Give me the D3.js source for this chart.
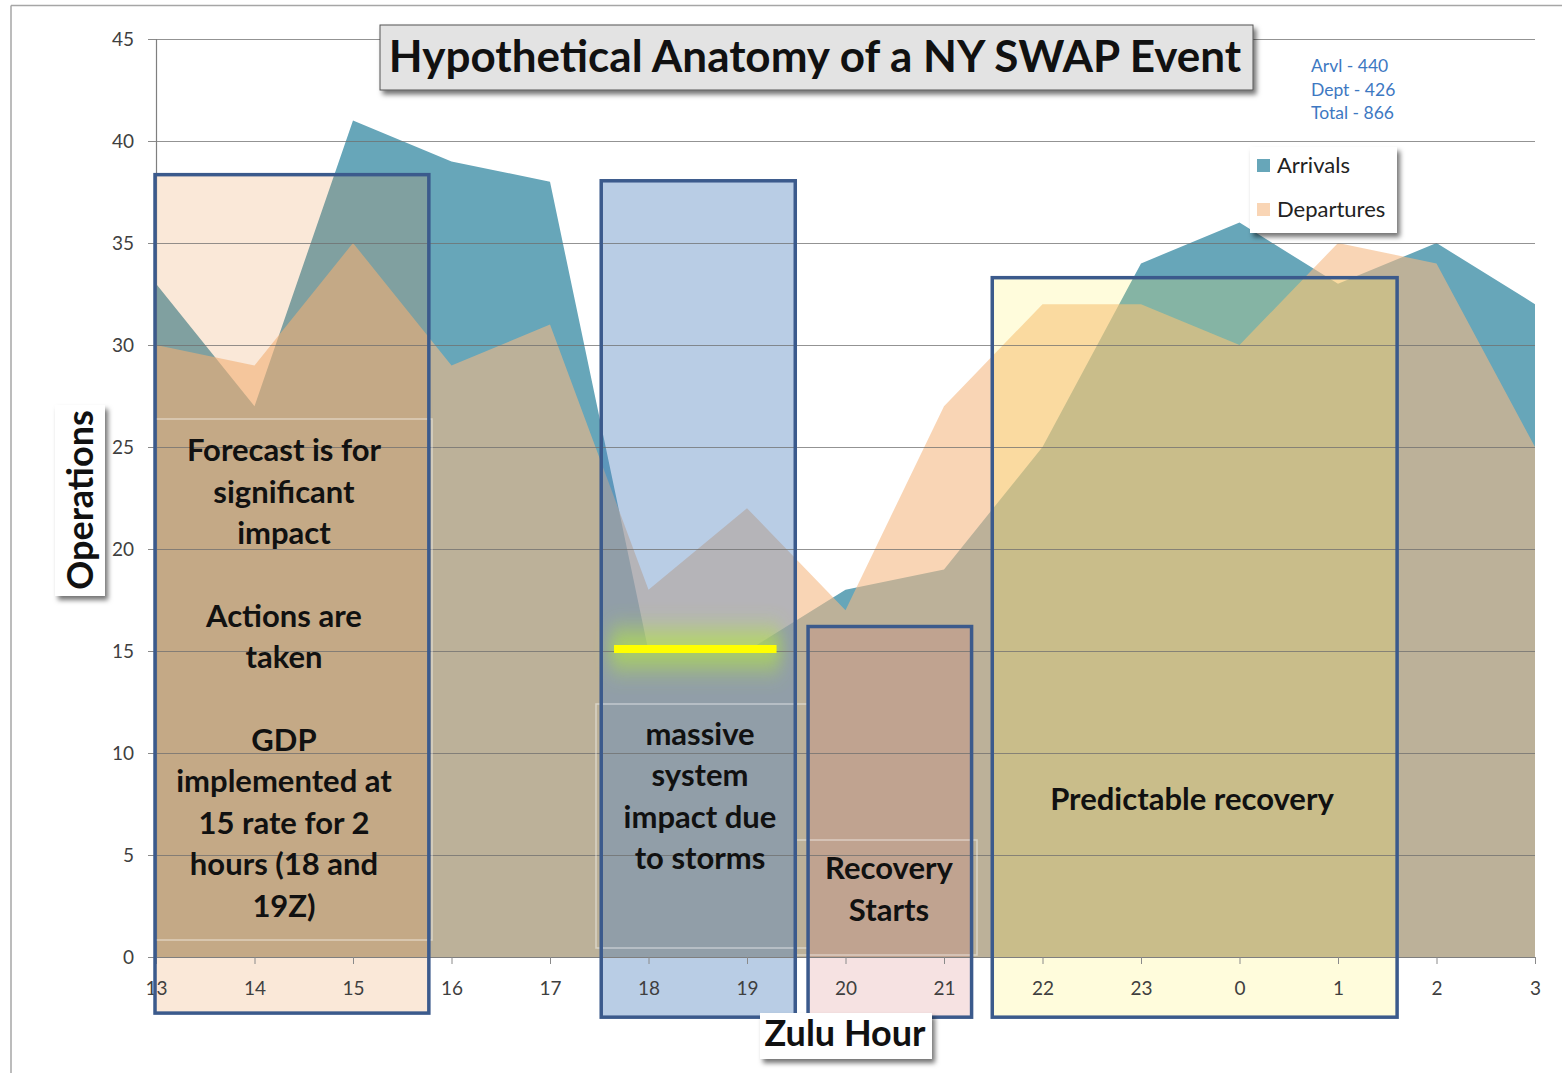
<!DOCTYPE html>
<html>
<head>
<meta charset="utf-8">
<script src="https://cdn.jsdelivr.net/npm/d3@7"></script>
<style>
  html, body { margin: 0; padding: 0; background: #ffffff; }
  svg { display: block; }
</style>
</head>
<body>
<svg id="chart" width="1562" height="1073"></svg>
<script>
// ---------------- DATA ----------------
const hours = [13, 14, 15, 16, 17, 18, 19, 20, 21, 22, 23, 0, 1, 2, 3];
const arrivals = [33, 27, 41, 39, 38, 15, 15, 18, 19, 25, 34, 36, 33, 35, 32];
const departures = [30, 29, 35, 29, 31, 18, 22, 17, 27, 32, 32, 30, 35, 34, 25];
const yTicks = [0, 5, 10, 15, 20, 25, 30, 35, 40, 45];
const seriesNames = ["Arrivals", "Departures"];
const totalsText = ["Arvl - 440", "Dept - 426", "Total - 866"];
const titleText = "Hypothetical Anatomy of a NY SWAP Event";
const yTitle = "Operations";
const xTitle = "Zulu Hour";
// phases: start/end in hour-index units, top value, label lines
const phaseStart = [-0.01, 4.52, 6.62, 8.49];
const phaseEnd = [2.77, 6.49, 8.28, 12.6];
const phaseTop = [38.35, 38.05, 16.2, 33.3];
const phaseLabels = [
  ["Forecast is for", "significant", "impact", "", "Actions are", "taken", "", "GDP", "implemented at", "15 rate for 2", "hours (18 and", "19Z)"],
  ["massive", "system", "impact due", "to storms"],
  ["Recovery", "Starts"],
  ["Predictable recovery"]
];
const phaseLabelTop = [24.3, 10.4, 3.8, 7.2]; // baseline value of first line
const gdpRate = 15.1;
const gdpSpan = [4.65, 6.30];

// ---------------- STYLE ----------------
const W = 1562, H = 1073;
const xL = 156, xR = 1535, yB = 957, yT = 39;
const FONT = "Lato, 'Open Sans', sans-serif";
const colArr = "#67a6b9";
const colDep = "rgb(245,185,132)";
const phaseFill = ["rgba(230,140,60,0.2)", "rgba(79,129,189,0.4)", "rgba(210,110,110,0.2)", "rgba(255,240,80,0.2)"];
const boxStroke = "#3b5a8c";

const svg = d3.select("#chart");
const defs = svg.append("defs");
const sh = defs.append("filter").attr("id", "shadow").attr("x", "-20%").attr("y", "-20%").attr("width", "150%").attr("height", "160%");
sh.append("feDropShadow").attr("dx", 3).attr("dy", 4).attr("stdDeviation", 2.5).attr("flood-color", "#000").attr("flood-opacity", 0.55);
const glow = defs.append("filter").attr("id", "glow").attr("x", "-30%").attr("y", "-300%").attr("width", "160%").attr("height", "700%");
glow.append("feGaussianBlur").attr("stdDeviation", "8 13");

const x = d3.scaleLinear().domain([0, hours.length - 1]).range([xL, xR]);
const y = d3.scaleLinear().domain([0, 45]).range([yB, yT]);

// chart outer border
svg.append("line").attr("x1", 11).attr("x2", W).attr("y1", 5.5).attr("y2", 5.5).attr("stroke", "#a6a6a6").attr("stroke-width", 1.5);
svg.append("line").attr("x1", 11).attr("x2", 11).attr("y1", 5.5).attr("y2", H).attr("stroke", "#a6a6a6").attr("stroke-width", 1.5);

// areas
const area = vals => d3.area().x((d, i) => x(i)).y0(y(0)).y1(d => y(d))(vals);
svg.append("path").attr("d", area(arrivals)).attr("fill", colArr);
svg.append("path").attr("d", area(departures)).attr("fill", colDep).attr("fill-opacity", 0.6);

// phase boxes
const phases = phaseStart.map((s, i) => ({ s, e: phaseEnd[i], top: phaseTop[i], lines: phaseLabels[i], ly: phaseLabelTop[i], i }));
const bottomVal = [-2.75, -2.95, -2.95, -2.95];
svg.append("g").selectAll("rect").data(phases).join("rect")
  .attr("x", d => x(d.s)).attr("y", d => y(d.top))
  .attr("width", d => x(d.e) - x(d.s)).attr("height", d => y(bottomVal[d.i]) - y(d.top))
  .attr("fill", d => phaseFill[d.i]);

// GDP rate line glow
svg.append("rect").attr("x", x(gdpSpan[0]) - 4).attr("y", y(gdpRate) - 18).attr("width", x(gdpSpan[1]) - x(gdpSpan[0]) + 8).attr("height", 36)
  .attr("fill", "rgb(180,228,70)").attr("opacity", 0.75).attr("filter", "url(#glow)");

// gridlines (on top)
svg.append("g").selectAll("line").data(yTicks.filter(t => t > 0)).join("line")
  .attr("x1", xL - 6).attr("x2", xR).attr("y1", d => Math.round(y(d)) + 0.5).attr("y2", d => Math.round(y(d)) + 0.5)
  .attr("stroke", "#6f6f6f").attr("stroke-opacity", 0.75).attr("stroke-width", 1);

svg.append("line").attr("x1", x(gdpSpan[0])).attr("x2", x(gdpSpan[1])).attr("y1", y(gdpRate)).attr("y2", y(gdpRate))
  .attr("stroke", "#ffff00").attr("stroke-width", 8);

// axes
const yAxis = svg.append("g").attr("transform", `translate(${xL},0)`)
  .call(d3.axisLeft(y).tickValues(yTicks).tickSize(8).tickPadding(14));
yAxis.select(".domain").attr("stroke", "#7f7f7f").attr("stroke-width", 1.2);
yAxis.selectAll(".tick line").attr("stroke", "#8a8a8a");
yAxis.selectAll(".tick text").attr("font-family", FONT).attr("font-size", 19).attr("fill", "#3f3f3f");

const xAxis = svg.append("g").attr("transform", `translate(0,${yB})`)
  .call(d3.axisBottom(x).tickValues(d3.range(hours.length)).tickFormat(i => hours[i]).tickSize(7).tickPadding(18).tickSizeOuter(0));
xAxis.select(".domain").attr("stroke", "#7f7f7f").attr("stroke-width", 1.2);
xAxis.selectAll(".tick line").attr("stroke", "#8a8a8a");
xAxis.selectAll(".tick text").attr("font-family", FONT).attr("font-size", 19).attr("fill", "#3f3f3f");

// faint textbox outlines
const tb = [[146, 419, 432, 940], [596, 704, 808, 948], [796, 840, 977, 955]];
svg.append("g").selectAll("rect").data(tb).join("rect")
  .attr("x", d => d[0]).attr("y", d => d[1]).attr("width", d => d[2] - d[0]).attr("height", d => d[3] - d[1])
  .attr("fill", "none").attr("stroke", "rgba(255,255,255,0.45)").attr("stroke-width", 1.5);

// box borders
svg.append("g").selectAll("rect").data(phases).join("rect")
  .attr("x", d => x(d.s)).attr("y", d => y(d.top))
  .attr("width", d => x(d.e) - x(d.s)).attr("height", d => y(bottomVal[d.i]) - y(d.top))
  .attr("fill", "none").attr("stroke", boxStroke).attr("stroke-width", 3.5);

// phase labels
const labelCx = [284, 700, 889, 1192];
phases.forEach(p => {
  const t = svg.append("text").attr("font-family", FONT).attr("font-weight", 700).attr("font-size", 31)
    .attr("fill", "#111").attr("text-anchor", "middle");
  p.lines.forEach((ln, k) => {
    t.append("tspan").attr("x", labelCx[p.i]).attr("y", y(p.ly) + k * 41.4).text(ln);
  });
});

// title
const tg = svg.append("g");
tg.append("rect").attr("x", 380).attr("y", 25).attr("width", 873).attr("height", 65)
  .attr("fill", "#e3e3e3").attr("stroke", "#555").attr("stroke-width", 1).attr("filter", "url(#shadow)");
tg.append("text").attr("x", 815).attr("y", 72).attr("text-anchor", "middle")
  .attr("font-family", FONT).attr("font-weight", 700).attr("font-size", 44).attr("fill", "#111").text(titleText);

// totals
svg.append("g").selectAll("text").data(totalsText).join("text")
  .attr("x", 1311).attr("y", (d, i) => 72 + i * 23.5)
  .attr("font-family", FONT).attr("font-size", 17.5).attr("fill", "#3d78c2").text(d => d);

// legend
const lg = svg.append("g");
lg.append("rect").attr("x", 1250).attr("y", 147).attr("width", 147).attr("height", 86).attr("fill", "#fff").attr("filter", "url(#shadow)");
const legCols = [colArr, "rgb(249,213,181)"];
seriesNames.forEach((n, i) => {
  lg.append("rect").attr("x", 1257).attr("y", 159 + i * 44).attr("width", 13).attr("height", 13).attr("fill", legCols[i]);
  lg.append("text").attr("x", 1277).attr("y", 173 + i * 44).attr("font-family", FONT).attr("font-size", 22).attr("fill", "#222").text(n);
});

// axis titles
svg.append("rect").attr("x", 55).attr("y", 405).attr("width", 50).attr("height", 191).attr("fill", "#fff").attr("filter", "url(#shadow)");
svg.append("text").attr("transform", "translate(93,500) rotate(-90)").attr("text-anchor", "middle")
  .attr("font-family", FONT).attr("font-weight", 700).attr("font-size", 36).attr("fill", "#111").text(yTitle);
svg.append("rect").attr("x", 760).attr("y", 1013).attr("width", 172).attr("height", 46).attr("fill", "#fff").attr("filter", "url(#shadow)");
svg.append("text").attr("x", 845).attr("y", 1046).attr("text-anchor", "middle")
  .attr("font-family", FONT).attr("font-weight", 700).attr("font-size", 36).attr("fill", "#111").text(xTitle);
</script>
</body>
</html>
